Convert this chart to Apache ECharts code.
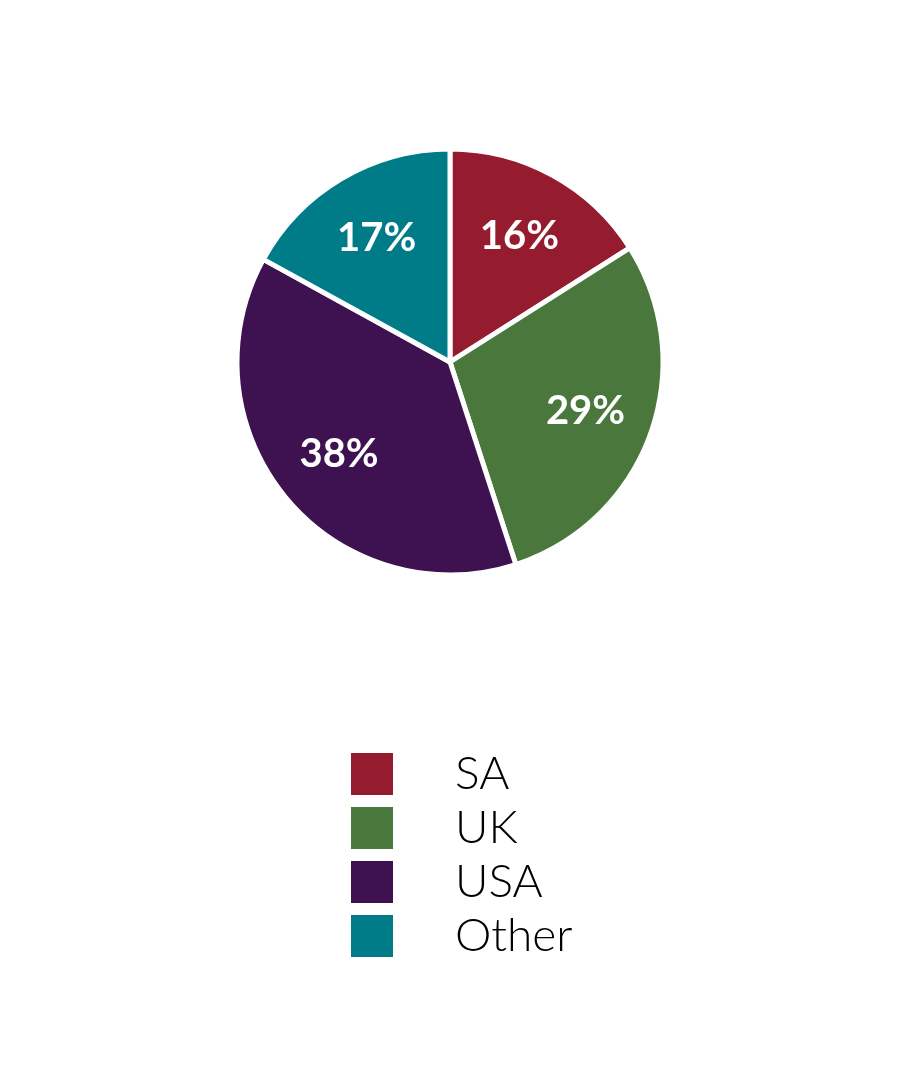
<!DOCTYPE html>
<html>
<head>
<meta charset="utf-8">
<style>
  html, body { margin: 0; padding: 0; background: #fff; }
  #chart { width: 900px; height: 1080px; }
</style>
<script src="https://cdn.jsdelivr.net/npm/echarts@6/dist/echarts.min.js"></script>
</head>
<body>
<div id="chart"></div>
<script>
// share by region, percent
const regions = ['SA', 'UK', 'USA', 'Other']
const shares = [16, 29, 38, 17]
const colors = ['#951b2f', '#4a773c', '#3e1151', '#007c89']

const chart = echarts.init(document.getElementById('chart'))

const seriesData = regions.map((name, i) => {
  return { name: name, value: shares[i], itemStyle: { color: colors[i] } }
})

const option = {
  animation: false,
  legend: {
    orient: 'vertical',
    left: 351,
    top: 751,
    padding: 0,
    itemWidth: 42,
    itemHeight: 42,
    itemGap: 8,
    icon: 'rect',
    selectedMode: false,
    itemStyle: { borderWidth: 0 },
    data: regions,
    textStyle: {
      fontFamily: 'Lato',
      fontWeight: 300,
      fontSize: 46,
      color: '#000',
      padding: [0, 0, 0, 57]
    }
  },
  series: [
    {
      // the visible slices
      type: 'pie',
      center: [450, 362],
      radius: [0, 213],
      startAngle: 90,
      clockwise: true,
      label: { show: false },
      labelLine: { show: false },
      itemStyle: { borderColor: '#fff', borderWidth: 5 },
      emphasis: { disabled: true },
      data: seriesData
    },
    {
      // transparent ring, only used to put the labels further out
      type: 'pie',
      center: [450, 362],
      radius: [72, 210],
      startAngle: 90,
      clockwise: true,
      silent: true,
      itemStyle: { color: 'transparent' },
      label: {
        show: true,
        position: 'inside',
        formatter: '{c}%',
        color: '#fff',
        fontFamily: 'Lato',
        fontWeight: 'bold',
        fontSize: 40
      },
      labelLine: { show: false },
      emphasis: { disabled: true },
      data: shares.map((v, i) => ({ name: regions[i] + ' ', value: v }))
    }
  ]
}

chart.setOption(option)
</script>
</body>
</html>
